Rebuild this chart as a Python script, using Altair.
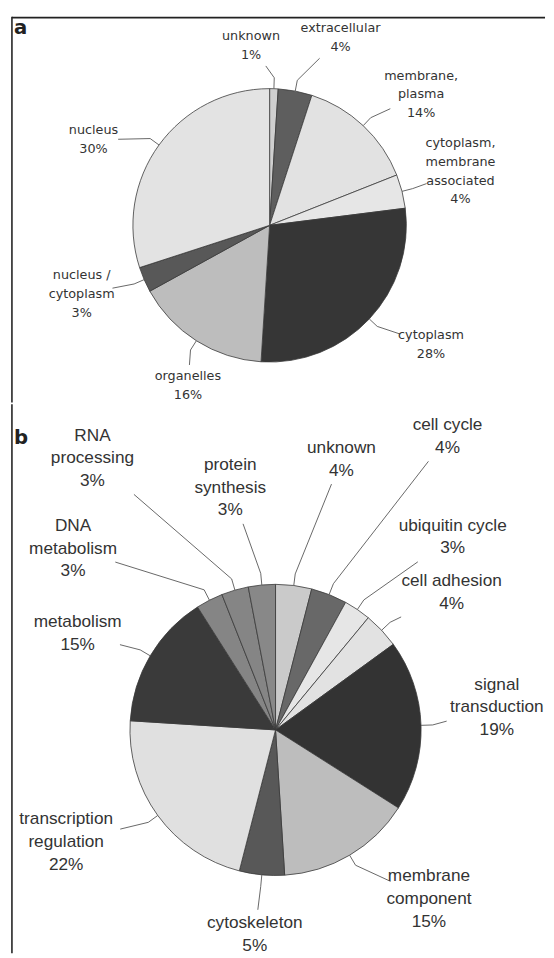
import math
import altair as alt
import pandas as pd

# ---------------- data ----------------
# panel a: subcellular localisation (clockwise from 12 o'clock)
a_cats = ["unknown", "extracellular", "membrane, plasma", "cytoplasm, membrane associated",
          "cytoplasm", "organelles", "nucleus / cytoplasm", "nucleus"]
a_vals = [1, 4, 14, 4, 28, 16, 3, 30]
a_names = ["unknown", "extracellular", "membrane,\nplasma", "cytoplasm,\nmembrane\nassociated",
           "cytoplasm", "organelles", "nucleus /\ncytoplasm", "nucleus"]

# panel b: biological process (clockwise from 12 o'clock)
b_cats = ["unknown", "cell cycle", "ubiquitin cycle", "cell adhesion", "signal transduction",
          "membrane component", "cytoskeleton", "transcription regulation", "metabolism",
          "DNA metabolism", "RNA processing", "protein synthesis"]
b_vals = [4, 4, 3, 4, 19, 15, 5, 22, 15, 3, 3, 3]
b_names = ["unknown", "cell cycle", "ubiquitin cycle", "cell adhesion", "signal\ntransduction",
           "membrane\ncomponent", "cytoskeleton", "transcription\nregulation", "metabolism",
           "DNA\nmetabolism", "RNA\nprocessing", "protein\nsynthesis"]

# ---------------- styles / layout ----------------
a_shades = ["#cfcfcf", "#5e5e5e", "#e2e2e2", "#e6e6e6", "#363636", "#bdbdbd", "#585858", "#e3e3e3"]
b_shades = ["#cacaca", "#686868", "#e6e6e6", "#e2e2e2", "#333333", "#bdbdbd", "#585858",
            "#e0e0e0", "#3a3a3a", "#858585", "#858585", "#888888"]

# label placement: polar angle (deg, clockwise from north) and radius (in pie radii)
a_lab_ang = [354.1, 20.7, 49.2, 74.2, 126.4, 207.0, 249.9, 295.9]
a_lab_r = [1.324, 1.468, 1.464, 1.451, 1.467, 1.316, 1.464, 1.432]
b_lab_ang = [13.7, 30.4, 42.6, 52.0, 84.2, 137.8, 185.8, 241.8, 295.9, 311.8, 326.0, 349.4]
b_lab_r = [1.912, 2.335, 1.798, 1.535, 1.528, 1.569, 1.412, 1.632, 1.511, 1.866, 2.249, 1.691]

W = 546
GEO_A = dict(W=W, H=392, cx=266, cy=212, R=139, font="DejaVu Sans", fs=13, lh=19, cw=6.3)
GEO_B = dict(W=W, H=558, cx=272, cy=331, R=148, font="Liberation Sans", fs=17.5, lh=23, cw=8.0)


def build_frames(cats, vals, names, lab_ang, lab_r, geo):
    total = float(sum(vals))
    R = geo["R"]
    slices, texts, lines = [], [], []
    cum = 0.0
    for i, (c, v, n, la, lr) in enumerate(zip(cats, vals, names, lab_ang, lab_r)):
        mid = (cum + v / 2.0) / total * 2 * math.pi
        cum += v
        label = f"{n}\n{v}%"
        parts = label.split("\n")
        slices.append(dict(idx=i, cat=c, value=v))
        a = math.radians(la)
        tx, ty = lr * math.sin(a), lr * math.cos(a)
        # Vega puts the first line at y: shift so the block is centred on (tx, ty)
        ty_first = ty + (len(parts) - 1) * geo["lh"] / 2.0 / R
        texts.append(dict(cat=c, tx=tx, ty=ty_first, label=label))
        ex, ey = math.sin(mid), math.cos(mid)
        elx, ely = 1.08 * ex, 1.08 * ey
        # text block half extents (units of radius)
        hw = (max(len(p) for p in parts) * geo["cw"] / 2 + 3) / R
        hh = (len(parts) * geo["lh"] / 2 + 2) / R
        dx, dy = elx - tx, ely - ty
        t = min(hw / abs(dx) if abs(dx) > 1e-9 else 1e9, hh / abs(dy) if abs(dy) > 1e-9 else 1e9)
        t = min(t, 0.95)
        endx, endy = tx + t * dx, ty + t * dy
        for k, (px, py) in enumerate([(1.0 * ex, 1.0 * ey), (elx, ely), (endx, endy)]):
            lines.append(dict(cat=c, k=k, lx=px, ly=py))
    return pd.DataFrame(slices), pd.DataFrame(texts), pd.DataFrame(lines)


def panel(cats, vals, names, shades, lab_ang, lab_r, geo, letter, letter_y, top_rule):
    df_s, df_t, df_l = build_frames(cats, vals, names, lab_ang, lab_r, geo)
    Wp, H, cx, cy, R = geo["W"], geo["H"], geo["cx"], geo["cy"], geo["R"]
    xs = alt.Scale(domain=[-cx / R, (Wp - cx) / R], nice=False, zero=False)
    ys = alt.Scale(domain=[(cy - H) / R, cy / R], nice=False, zero=False)

    pie = alt.Chart(df_s).mark_arc(radius=R, stroke="#3a3a3a", strokeWidth=0.8).encode(
        theta=alt.Theta("value:Q", stack=True),
        order=alt.Order("idx:Q"),
        color=alt.Color("cat:N", scale=alt.Scale(domain=cats, range=shades), legend=None),
        x=alt.XDatum(0, scale=xs, axis=None),
        y=alt.YDatum(0, scale=ys, axis=None),
    )
    leaders = alt.Chart(df_l).mark_line(color="#555555", strokeWidth=0.9).encode(
        x=alt.X("lx:Q", scale=xs, axis=None),
        y=alt.Y("ly:Q", scale=ys, axis=None),
        detail="cat:N",
        order="k:Q",
    )
    labels = alt.Chart(df_t).mark_text(
        font=geo["font"], fontSize=geo["fs"], lineHeight=geo["lh"], lineBreak="\n",
        align="center", baseline="middle", color="#333333",
    ).encode(
        x=alt.X("tx:Q", scale=xs, axis=None),
        y=alt.Y("ty:Q", scale=ys, axis=None),
        text="label:N",
    )
    letter_mark = alt.Chart(pd.DataFrame({"t": [letter]})).mark_text(
        font="DejaVu Sans", fontSize=20, fontWeight="bold", align="left",
        baseline="alphabetic", color="#222222",
    ).encode(x=alt.value(6), y=alt.value(letter_y), text="t:N")
    one = pd.DataFrame({"k": [0]})
    left_rule = alt.Chart(one).mark_rule(color="#222222", strokeWidth=1.6).encode(
        x=alt.value(4), y=alt.value(0), y2=alt.value(H))
    layers = [pie, leaders, labels, letter_mark, left_rule]
    if top_rule:
        layers.append(alt.Chart(one).mark_rule(color="#222222", strokeWidth=1.6).encode(
            x=alt.value(4), x2=alt.value(Wp), y=alt.value(0.8)))
    return alt.layer(*layers).properties(width=Wp, height=H)


pa = panel(a_cats, a_vals, a_names, a_shades, a_lab_ang, a_lab_r, GEO_A, "a", 17, True)
pb = panel(b_cats, b_vals, b_names, b_shades, b_lab_ang, b_lab_r, GEO_B, "b", 40, False)

chart = alt.vconcat(pa, pb, spacing=0).resolve_scale(
    color="independent", x="independent", y="independent"
).properties(padding=0).configure_view(stroke=None)

chart.save("out.html", embed_options={"renderer": "svg", "actions": False})
